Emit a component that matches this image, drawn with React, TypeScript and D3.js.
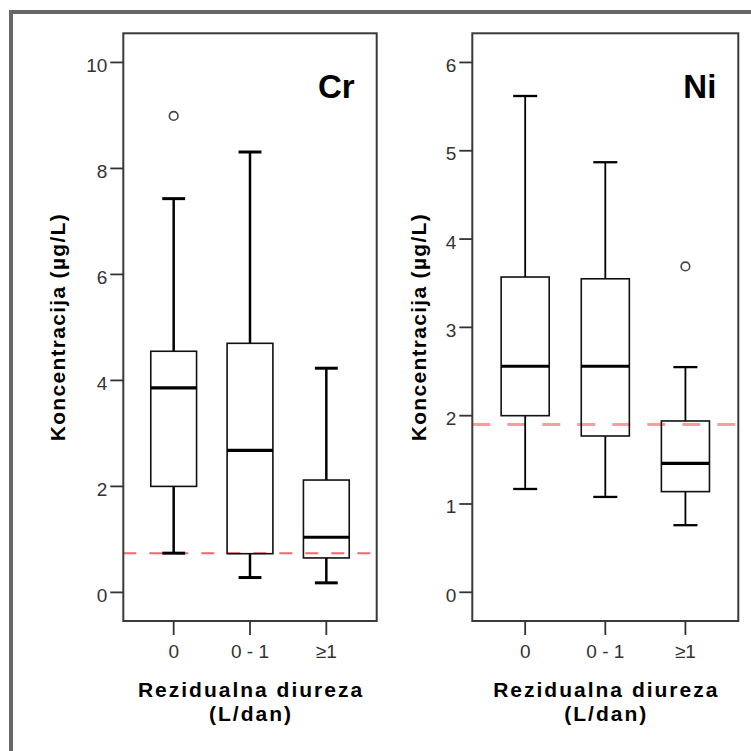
import React from "react";
import * as d3 from "d3";

const categories = ["0", "0 - 1", "≥1"];

const crWhiskerLow = [0.74, 0.28, 0.18];
const crQ1 = [2.0, 0.73, 0.65];
const crMedian = [3.86, 2.68, 1.04];
const crQ3 = [4.55, 4.7, 2.12];
const crWhiskerHigh = [7.43, 8.31, 4.23];
const crOutliers = [[8.99], [], []];
const crLimit = 0.74;
const crTicks = [0, 2, 4, 6, 8, 10];

const niWhiskerLow = [1.17, 1.08, 0.76];
const niQ1 = [2.0, 1.77, 1.14];
const niMedian = [2.56, 2.56, 1.46];
const niQ3 = [3.57, 3.55, 1.94];
const niWhiskerHigh = [5.62, 4.87, 2.55];
const niOutliers = [[], [], [3.69]];
const niLimit = 1.9;
const niTicks = [0, 1, 2, 3, 4, 5, 6];

const yTitle = "Koncentracija (µg/L)";
const xTitle1 = "Rezidualna diureza";
const xTitle2 = "(L/dan)";

const FONT = "'Liberation Sans', Arial, Helvetica, sans-serif";

type PanelProps = {
  label: string;
  left: number;
  right: number;
  domain: [number, number];
  ticks: number[];
  low: number[];
  q1: number[];
  med: number[];
  q3: number[];
  high: number[];
  outliers: number[][];
  limit: number;
  whiskerWidth: number;
  limitWidth: number;
  limitDash: string;
  limitColor: string;
  yTitleX: number;
};

const TOP = 33.3;
const BOTTOM = 621;

function Panel(p: PanelProps) {
  const y = d3.scaleLinear().domain(p.domain).range([BOTTOM, TOP]);
  const x = d3.scalePoint<string>().domain(categories).range([p.left, p.right]).padding(0.66);
  const step = x.step();
  const bw = step * 0.6;
  const cw = bw / 2;
  const midX = (p.left + p.right) / 2;
  const midY = (TOP + BOTTOM) / 2;
  return (
    <g>
      {/* limit line */}
      <line
        x1={p.left}
        x2={p.right}
        y1={y(p.limit)}
        y2={y(p.limit)}
        stroke={p.limitColor}
        strokeWidth={p.limitWidth}
        strokeDasharray={p.limitDash}
      />
      {categories.map((c, i) => {
        const cx = x(c)!;
        return (
          <g key={c}>
            <line x1={cx} x2={cx} y1={y(p.q3[i])} y2={y(p.high[i])} stroke="#000" strokeWidth={p.whiskerWidth} />
            <line x1={cx} x2={cx} y1={y(p.q1[i])} y2={y(p.low[i])} stroke="#000" strokeWidth={p.whiskerWidth} />
            <line x1={cx - cw / 2} x2={cx + cw / 2} y1={y(p.high[i])} y2={y(p.high[i])} stroke="#000" strokeWidth={p.whiskerWidth + 0.5} />
            <line x1={cx - cw / 2} x2={cx + cw / 2} y1={y(p.low[i])} y2={y(p.low[i])} stroke="#000" strokeWidth={p.whiskerWidth + 0.5} />
            <rect
              x={cx - bw / 2}
              y={y(p.q3[i])}
              width={bw}
              height={y(p.q1[i]) - y(p.q3[i])}
              fill="#fff"
              fillOpacity={0}
              stroke="#111"
              strokeWidth={1.6}
            />
            <line x1={cx - bw / 2} x2={cx + bw / 2} y1={y(p.med[i])} y2={y(p.med[i])} stroke="#000" strokeWidth={3.2} />
            {p.outliers[i].map((o, k) => (
              <circle key={k} cx={cx} cy={y(o)} r={4.3} fill="#fff" stroke="#444" strokeWidth={1.6} />
            ))}
          </g>
        );
      })}
      {/* frame */}
      <rect x={p.left} y={TOP} width={p.right - p.left} height={BOTTOM - TOP} fill="none" stroke="#3a3a3a" strokeWidth={2} />
      {/* y ticks */}
      {p.ticks.map((t) => (
        <g key={t}>
          <line x1={p.left - 13} x2={p.left} y1={y(t)} y2={y(t)} stroke="#333" strokeWidth={1.8} />
          <text x={p.left - 16} y={y(t) + 9.5} textAnchor="end" fontSize={19} fill="#333" fontFamily={FONT}>
            {t}
          </text>
        </g>
      ))}
      {/* x ticks */}
      {categories.map((c) => (
        <g key={c}>
          <line x1={x(c)!} x2={x(c)!} y1={BOTTOM} y2={BOTTOM + 14} stroke="#333" strokeWidth={1.8} />
          <text x={x(c)!} y={658} textAnchor="middle" fontSize={19} fill="#333" fontFamily={FONT}>
            {c}
          </text>
        </g>
      ))}
      {/* panel label */}
      <text x={p.right - 22} y={98} textAnchor="end" fontSize={33} fontWeight="bold" fill="#000" fontFamily={FONT}>
        {p.label}
      </text>
      {/* x title */}
      <text x={midX + 1} y={697} textAnchor="middle" fontSize={21} fontWeight="bold" fill="#000" fontFamily={FONT} letterSpacing={2}>
        {xTitle1}
      </text>
      <text x={midX + 1} y={721} textAnchor="middle" fontSize={21} fontWeight="bold" fill="#000" fontFamily={FONT} letterSpacing={2}>
        {xTitle2}
      </text>
      {/* y title */}
      <text
        transform={`translate(${p.yTitleX},${midY}) rotate(-90)`}
        textAnchor="middle"
        fontSize={21}
        fontWeight="bold"
        fill="#000"
        fontFamily={FONT}
        letterSpacing={1.3}
      >
        {yTitle}
      </text>
    </g>
  );
}

export default function App() {
  return (
    <svg
      width={751}
      height={751}
      viewBox="0 0 751 751"
      style={{ position: "absolute", left: 0, top: 0, background: "#fff" }}
    >
      <rect x={0} y={0} width={751} height={751} fill="#fff" />
      <rect x={11} y={12} width={800} height={800} fill="none" stroke="#666" strokeWidth={4} />
      <Panel
        label="Cr"
        left={123.3}
        right={376.7}
        domain={[-0.54, 10.55]}
        ticks={crTicks}
        low={crWhiskerLow}
        q1={crQ1}
        med={crMedian}
        q3={crQ3}
        high={crWhiskerHigh}
        outliers={crOutliers}
        limit={crLimit}
        whiskerWidth={2.5}
        limitWidth={2}
        limitDash="13 13"
        limitColor="#ee6a6a"
        yTitleX={65}
      />
      <Panel
        label="Ni"
        left={472.3}
        right={738.3}
        domain={[-0.325, 6.33]}
        ticks={niTicks}
        low={niWhiskerLow}
        q1={niQ1}
        med={niMedian}
        q3={niQ3}
        high={niWhiskerHigh}
        outliers={niOutliers}
        limit={niLimit}
        whiskerWidth={1.8}
        limitWidth={3}
        limitDash="18 17"
        limitColor="#f5a0a0"
        yTitleX={426}
      />
    </svg>
  );
}
